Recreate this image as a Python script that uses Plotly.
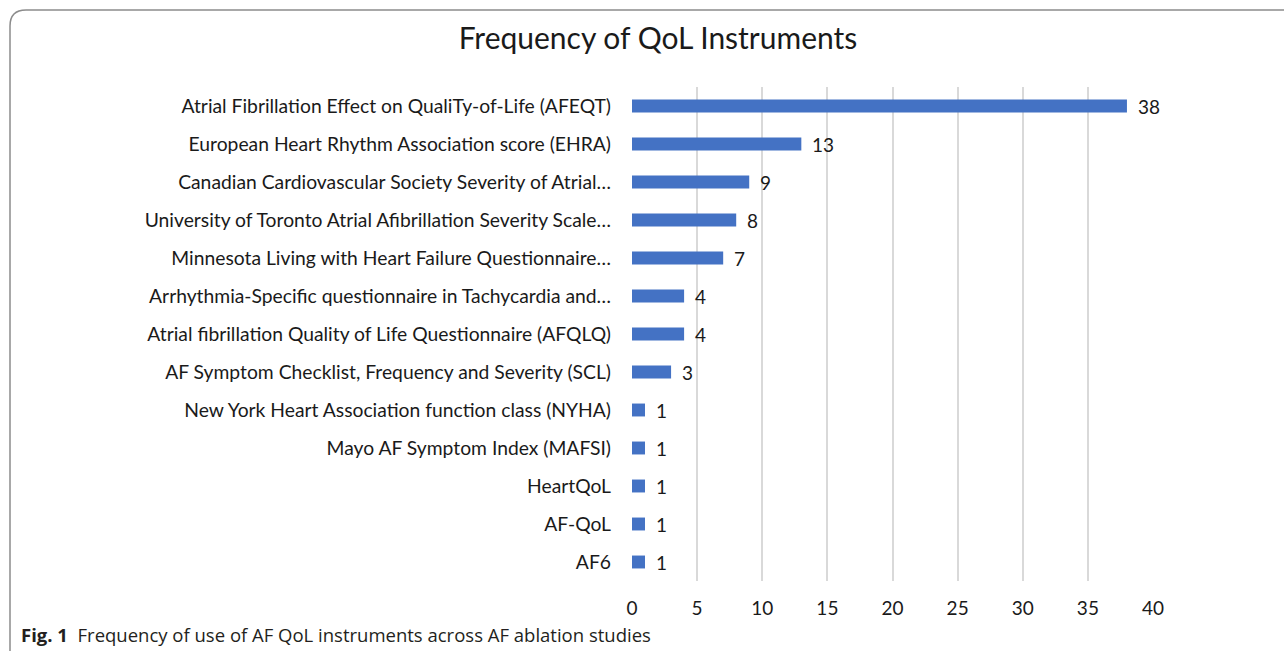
import plotly.graph_objects as go

categories = [
    "Atrial Fibrillation Effect on QualiTy-of-Life (AFEQT)",
    "European Heart Rhythm Association score (EHRA)",
    "Canadian Cardiovascular Society Severity of Atrial…",
    "University of Toronto Atrial Afibrillation Severity Scale…",
    "Minnesota Living with Heart Failure Questionnaire…",
    "Arrhythmia-Specific questionnaire in Tachycardia and…",
    "Atrial fibrillation Quality of Life Questionnaire (AFQLQ)",
    "AF Symptom Checklist, Frequency and Severity (SCL)",
    "New York Heart Association function class (NYHA)",
    "Mayo AF Symptom Index (MAFSI)",
    "HeartQoL",
    "AF-QoL",
    "AF6",
]
counts = [38, 13, 9, 8, 7, 4, 4, 3, 1, 1, 1, 1, 1]
x_ticks = [0, 5, 10, 15, 20, 25, 30, 35, 40]

title_text = "Frequency of QoL Instruments"
caption_bold = "Fig. 1"
caption_text = "Frequency of use of AF QoL instruments across AF ablation studies"

W, H = 1284, 651
L, R, T, B = 632, 1153, 87, 581
FONT = "Lato, 'Open Sans', sans-serif"

fig = go.Figure()
fig.add_trace(go.Bar(
    x=counts, y=categories, orientation="h",
    marker=dict(color="#4472C4", line=dict(width=0)),
    width=0.34,
    hoverinfo="x+y",
))

for c, v in zip(categories, counts):
    fig.add_annotation(x=v, y=c, text=str(v), showarrow=False,
                       xanchor="left", xshift=9,
                       font=dict(family=FONT, size=19, color="#1a1a1a"))

def px(xp):
    return (xp - L) / (R - L)

def py(yp):
    return (B - yp) / (B - T)

# rounded border frame
path = (f"M {px(10)},{py(660)} L {px(10)},{py(26)} "
        f"Q {px(10)},{py(10)} {px(26)},{py(10)} L {px(1290)},{py(10)}")
fig.add_shape(type="path", xref="paper", yref="paper", path=path,
              line=dict(color="#8c8c8c", width=1.5))

fig.add_annotation(xref="paper", yref="paper", x=px(19), y=py(634),
                   xanchor="left", yanchor="middle", showarrow=False,
                   text=f"<b>{caption_bold}</b>  {caption_text}",
                   font=dict(family="'Open Sans', sans-serif",
                             size=18.5, color="#231f20"))

fig.update_layout(
    width=W, height=H,
    margin=dict(l=L, r=W - R, t=T, b=H - B),
    paper_bgcolor="white", plot_bgcolor="white",
    title=dict(text=title_text, x=658 / W, xanchor="center",
               y=1 - 38 / H, yanchor="middle",
               font=dict(family=FONT, size=30, color="#1a1a1a")),
    showlegend=False,
    bargap=0.66,
    xaxis=dict(range=[0, 40], tickvals=x_ticks, showgrid=True,
               gridcolor="#d9d9d9", gridwidth=1.5, zeroline=False,
               showline=False, ticks="", ticklabelstandoff=14,
               tickfont=dict(family=FONT, size=19, color="#1a1a1a")),
    yaxis=dict(autorange="reversed", showgrid=False, showline=False,
               ticks="", ticklabelstandoff=20,
               tickfont=dict(family=FONT, size=19.3, color="#1a1a1a")),
)

fig.write_html("out.html", config={"displayModeBar": False},
               post_script="document.body.style.margin='0';document.body.style.overflow='hidden';")
